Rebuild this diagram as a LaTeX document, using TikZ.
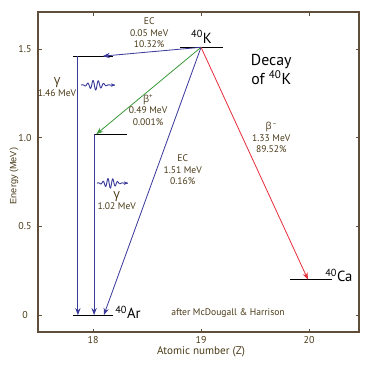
\documentclass[tikz,border=0pt]{standalone}
\usepackage{fontspec}
\setmainfont{PT Sans}
\newfontfamily\greekfont{Open Sans}
\newfontfamily\axisfont{Liberation Sans}
\usetikzlibrary{arrows.meta}
\definecolor{framebrown}{HTML}{5E4E3A}
\definecolor{labelbrown}{HTML}{4A3A18}
\definecolor{ecblue}{HTML}{3A3A9A}
\definecolor{betagreen}{HTML}{3C9A3C}
\definecolor{betared}{HTML}{E8303C}
\tikzset{level/.style={line width=1pt, black},
  decay/.style={line width=0.7pt, -{Stealth[length=6pt,width=4.5pt]}},
  photon/.style={ecblue, line width=0.8pt, -{Stealth[length=3.5pt,width=3pt]}},
  lbl/.style={text=labelbrown, font=\fontsize{8.2}{9.8}\selectfont, align=center, inner sep=0pt},
  nuclide/.style={font=\fontsize{12.5}{14}\selectfont, inner sep=0pt, anchor=base west},
  ticklbl/.style={text=labelbrown, font=\fontsize{8.5}{9}\selectfont, inner sep=0pt}}
\newcommand{\gam}{{\greekfont γ}}
\newcommand{\bet}{{\greekfont β}}
\begin{document}
\begin{tikzpicture}[x=3.24cm, y=5.32cm]
  \useasboundingbox (17.139,-0.2877) rectangle (20.583,1.7766);
  % frame and ticks
  \draw[framebrown, line width=1.2pt] (17.491,-0.096) rectangle (20.463,1.709);
  \foreach \z in {18,19,20} {
    \draw[framebrown, line width=0.8pt] (\z,-0.096) -- ++(0,0.02);
    \draw[framebrown, line width=0.8pt] (\z,1.709) -- ++(0,-0.02);
    \node[ticklbl] (zt\z) at (\z,-0.141) {\z};
  }
  \foreach \e/\t in {0/0,0.5/0.5,1/1.0,1.5/1.5} {
    \draw[framebrown, line width=0.8pt] (17.491,\e) -- ++(0.033,0);
    \draw[framebrown, line width=0.8pt] (20.463,\e) -- ++(-0.033,0);
    \node[ticklbl] (et\t) at (17.37,\e) {\t};
  }
  \node[text=labelbrown, font=\fontsize{9.5}{10}\selectfont, inner sep=0pt] (zlabel) at (19.0,-0.209) {Atomic number (Z)};
  \node[text=labelbrown, font=\axisfont\fontsize{7.8}{9}\selectfont, inner sep=0pt, rotate=90] (elabel) at (17.269,0.784) {Energy (MeV)};

  % energy levels
  \coordinate (K) at (19,1.51);
  \coordinate (Ar146) at (18.09,1.46);
  \coordinate (Ar102) at (18.03,1.02);
  \coordinate (Ar0) at (18.10,0);
  \coordinate (Ca) at (19.99,0.2);
  \coordinate (g1top) at (17.86,1.46);
  \coordinate (g1bot) at (17.86,0);
  \coordinate (g2top) at (18.01,1.02);
  \coordinate (g2bot) at (18.01,0);
  \draw[level] (18.806,1.51) -- (19.204,1.51);
  \draw[level] (17.815,1.46) -- (18.185,1.46);
  \draw[level] (18.009,1.02) -- (18.315,1.02);
  \draw[level] (17.815,0) -- (18.185,0);
  \draw[level] (19.824,0.2) -- (20.213,0.2);

  % decays
  \draw[decay, ecblue] (K) -- (Ar146);
  \draw[decay, betagreen] (K) -- (Ar102);
  \draw[decay, ecblue] (K) -- (Ar0);
  \draw[decay, betared] (K) -- (Ca);
  \draw[decay, ecblue] (g1top) -- (g1bot);
  \draw[decay, ecblue] (g2top) -- (g2bot);

  % photons
  \draw[photon] plot[domain=0:1, samples=200, smooth]
    ({17.889+0.315*\x}, {1.297+0.028*exp(-((\x-0.42)*(\x-0.42))/0.05)*sin(\x*2300)});
  \draw[photon] plot[domain=0:1, samples=200, smooth]
    ({18.037+0.287*\x}, {0.744+0.028*exp(-((\x-0.42)*(\x-0.42))/0.05)*sin(\x*2300)});

  % labels
  \node[lbl] (ec1) at (18.52,1.592) {EC\\0.05 MeV\\10.32\%};
  \node[lbl] (bp) at (18.51,1.156) {\bet\textsuperscript{+}\\0.49 MeV\\0.001\%};
  \node[lbl] (ec2) at (18.83,0.820) {EC\\1.51 MeV\\0.16\%};
  \node[lbl] (bm) at (19.65,1.000) {\bet\textsuperscript{\,−}\\1.33 MeV\\89.52\%};
  \node[lbl] (g1) at (17.667,1.285) {{\fontsize{11}{10}\selectfont\gam}\\1.46 MeV};
  \node[lbl] (g2) at (18.22,0.645) {{\fontsize{11}{10}\selectfont\gam}\\1.02 MeV};
  \node[nuclide] (Klbl) at (18.907,1.534) {\textsuperscript{40}K};
  \node[nuclide] (Arlbl) at (18.204,-0.017) {\textsuperscript{40}Ar};
  \node[nuclide] (Calbl) at (20.148,0.19) {\textsuperscript{40}Ca};
  \node[font=\fontsize{13.5}{16}\selectfont, align=center, inner sep=0pt] (title) at (19.65,1.385) {Decay\\of \textsuperscript{40}K};
  \node[lbl] (src) at (19.25,0.011) {after McDougall \& Harrison};
\end{tikzpicture}
\end{document}
